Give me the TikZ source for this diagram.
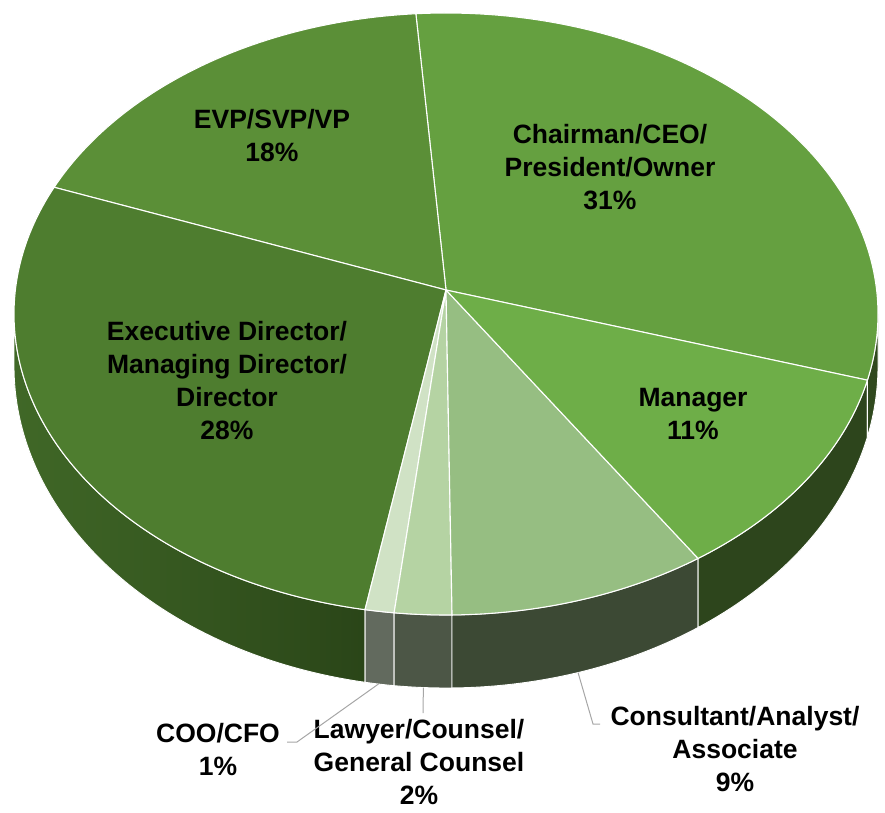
\documentclass[tikz,border=0pt]{standalone}
\usepackage{fontspec}
\setmainfont{Liberation Sans}
\usetikzlibrary{calc}
\definecolor{tChair}{HTML}{65A040}
\definecolor{tEvp}{HTML}{5B8F37}
\definecolor{tExec}{HTML}{4E7D2F}
\definecolor{tMgr}{HTML}{6EAE48}
\definecolor{tCons}{HTML}{96BE82}
\definecolor{tLaw}{HTML}{B5D3A3}
\definecolor{tCoo}{HTML}{D0E2C5}
\definecolor{sExecL}{HTML}{406827}
\definecolor{sExecR}{HTML}{2A4518}
\definecolor{sCoo}{HTML}{626A5E}
\definecolor{sLaw}{HTML}{4C5646}
\definecolor{sCons}{HTML}{3C4934}
\definecolor{sMgr}{HTML}{2D451C}
\definecolor{sChair}{HTML}{30491E}
\definecolor{leadgray}{HTML}{A6A6A6}
\newcommand{\pieside}[3]{%
  \path[#3] ($(T)+(#1:432pt and 301pt)$)
    arc[start angle=#1,end angle=#2,x radius=432pt,y radius=301pt]
    -- ($(B)+(#2:432pt and 322pt)$)
    arc[start angle=#2,end angle=#1,x radius=432pt,y radius=322pt] -- cycle;}
\newcommand{\pietop}[3]{%
  \path[#3] (A) -- ($(T)+(#1:432pt and 301pt)$)
    arc[start angle=#1,end angle=#2,x radius=432pt,y radius=301pt] -- cycle;}
\begin{document}
\begin{tikzpicture}[x=1pt,y=1pt,
  lbl/.style={font=\fontsize{26.5}{33}\selectfont\bfseries, align=center, inner sep=0pt, text=black},
  sideface/.style={draw=white, line width=0.9pt, line join=round},
  topface/.style={draw=white, line width=1.1pt, line join=round},
  leader/.style={draw=leadgray, line width=1pt}]
\useasboundingbox (0,0) rectangle (885,812);
\coordinate (T) at (446,498);
\coordinate (B) at (446,446);
\coordinate (A) at (446,522);
% sides
\pieside{180}{259.2}{sideface, left color=sExecL, right color=sExecR}
\pieside{259.2}{263.1}{sideface, fill=sCoo}
\pieside{263.1}{270.8}{sideface, fill=sLaw}
\pieside{270.8}{305.7}{sideface, fill=sCons}
\pieside{305.7}{347.3}{sideface, fill=sMgr}
\pieside{347.3}{360}{sideface, fill=sChair}
% tops
\pietop{-12.7}{94}{topface, fill=tChair}
\pietop{94}{155.1}{topface, fill=tEvp}
\pietop{155.1}{259.2}{topface, fill=tExec}
\pietop{259.2}{263.1}{topface, fill=tCoo}
\pietop{263.1}{270.8}{topface, fill=tLaw}
\pietop{270.8}{305.7}{topface, fill=tCons}
\pietop{305.7}{347.3}{topface, fill=tMgr}
% labels on slices
\node[lbl] (chair) at (610,645) {Chairman/CEO/\\President/Owner\\31\%};
\node[lbl] (evp) at (272,676.5) {EVP/SVP/VP\\18\%};
\node[lbl] (exec) at (227,431) {Executive Director/\\Managing Director/\\Director\\28\%};
\node[lbl] (mgr) at (693,398) {Manager\\11\%};
% outside labels
\node[lbl] (cons) at (735,63) {Consultant/Analyst/\\Associate\\9\%};
\node[lbl] (coo) at (218,63) {COO/CFO\\1\%};
\node[lbl] (law) at (419,50) {Lawyer/Counsel/\\General Counsel\\2\%};
% leader lines
\coordinate (cooTip) at ($(B)+(261:432pt and 322pt)$);
\coordinate (cooBend) at (297,70);
\coordinate (cooEnd) at (287,70);
\coordinate (lawTip) at ($(B)+(267:432pt and 322pt)$);
\coordinate (lawEnd) at (423,99);
\coordinate (consTip) at ($(B)+(287.8:432pt and 322pt)$);
\coordinate (consBend) at (593,88);
\coordinate (consEnd) at (600,88);
\draw[leader] (cooTip) -- (cooBend) -- (cooEnd);
\draw[leader] (lawTip) -- (lawEnd);
\draw[leader] (consTip) -- (consBend) -- (consEnd);
\end{tikzpicture}
\end{document}
